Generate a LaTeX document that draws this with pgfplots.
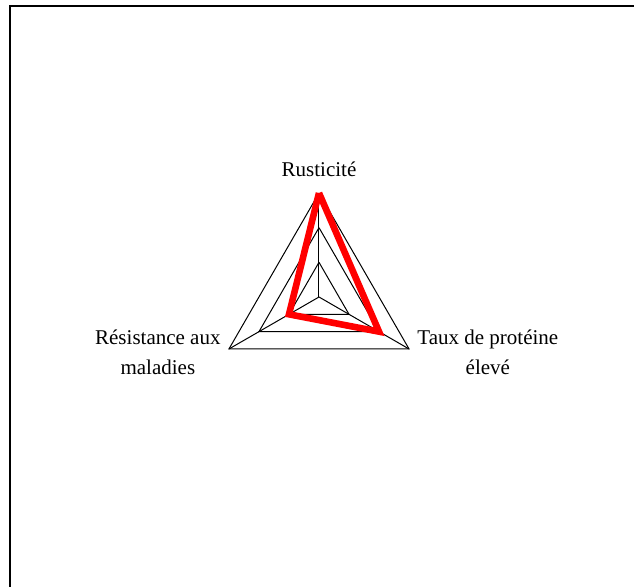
\documentclass[border=0pt]{standalone}
\usepackage{fontspec}
\setmainfont{Liberation Serif}
\usepackage{pgfplots}
\pgfplotsset{compat=1.18}

% scores in polar form (angle, value)
\pgfplotstableread{
a r
90 3
330 2
210 1
90 3
}\scores

\begin{document}
\begin{tikzpicture}
\useasboundingbox (0,0) rectangle (317pt,-293.5pt);
\draw[line width=0.7pt] (5pt,-293.5pt) -- (5pt,-3pt) -- (320pt,-3pt);
\begin{axis}[
    at={(159.5pt,-148.5pt)}, anchor=origin,
    x=17.333pt, y=17.333pt,
    xmin=-3.2, xmax=3.2, ymin=-3.2, ymax=3.2,
    hide axis, clip=false,
    data cs=polar,
    every axis plot/.append style={no marks},
    font=\fontsize{10.5}{15}\selectfont,
]
% levels
\addplot[black, line width=0.5pt] coordinates {(90,1)(210,1)(330,1)(90,1)};
\addplot[black, line width=0.5pt] coordinates {(90,2)(210,2)(330,2)(90,2)};
\addplot[black, line width=0.5pt] coordinates {(90,3)(210,3)(330,3)(90,3)};
% spokes
\addplot[black, line width=0.5pt] coordinates {(0,0)(90,3)};
\addplot[black, line width=0.5pt] coordinates {(0,0)(210,3)};
\addplot[black, line width=0.5pt] coordinates {(0,0)(330,3)};
% scores
\addplot[red, line width=3.3pt, line join=miter] table[x=a, y=r] {\scores};
\node[anchor=base, inner sep=0pt, yshift=8.5pt] at (axis cs:0,3) {Rusticité};
\node[anchor=base east, inner sep=0pt, align=center, xshift=-4pt, yshift=-13pt] at (axis cs:-2.598,-1.5) {Résistance aux\\maladies};
\node[anchor=base west, inner sep=0pt, align=center, xshift=4pt, yshift=-13pt] at (axis cs:2.598,-1.5) {Taux de protéine\\élevé};
\end{axis}
\end{tikzpicture}
\end{document}
